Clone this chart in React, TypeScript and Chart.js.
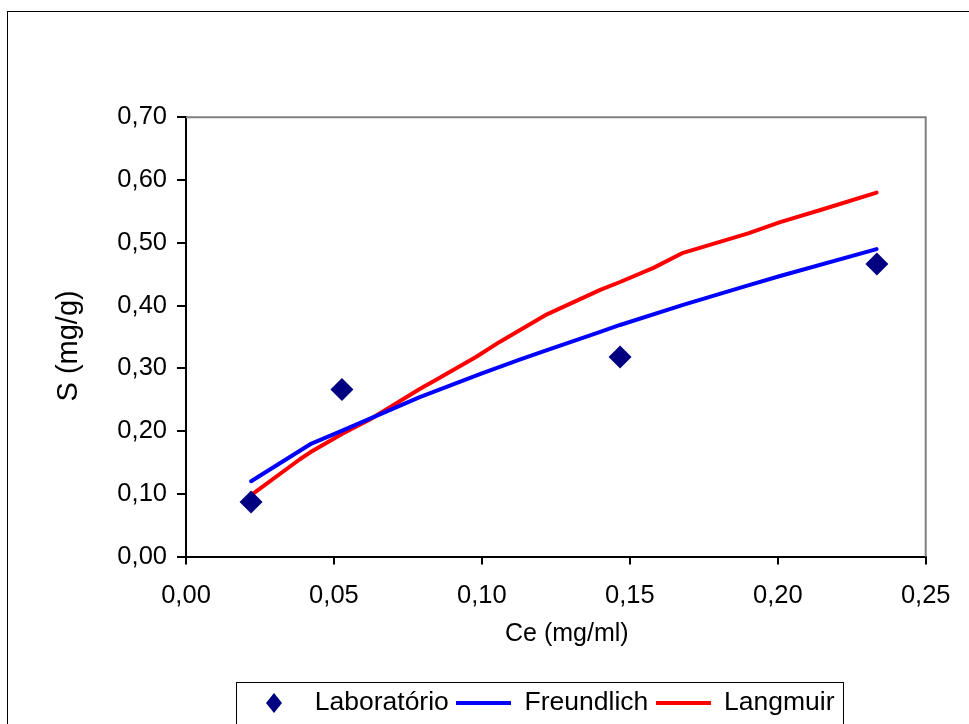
import { useEffect, useRef } from 'react';
import { Chart, registerables } from 'chart.js';

Chart.register(...registerables);

// Laboratory isotherm measurements
const labCe = [0.022, 0.0527, 0.1467, 0.2335];
const labS = [0.087, 0.266, 0.318, 0.466];

// Freundlich model curve
const freundlichCe = [0.022, 0.042, 0.053, 0.079, 0.1, 0.113, 0.122, 0.14, 0.1467, 0.168, 0.19, 0.2008, 0.2334];
const freundlichS = [0.12, 0.179, 0.201, 0.254, 0.292, 0.314, 0.329, 0.358, 0.369, 0.401, 0.432, 0.447, 0.49];

// Langmuir model curve
const langmuirCe = [0.022, 0.0385, 0.042, 0.053, 0.062, 0.079, 0.085, 0.098, 0.106, 0.122, 0.14, 0.1467, 0.158, 0.168, 0.19, 0.2008, 0.215, 0.2334];
const langmuirS = [0.098, 0.155, 0.166, 0.196, 0.218, 0.267, 0.283, 0.318, 0.342, 0.386, 0.425, 0.4375, 0.46, 0.484, 0.515, 0.533, 0.553, 0.58];

const seriesNames = ['Laboratório', 'Freundlich', 'Langmuir'];
const xTitle = 'Ce (mg/ml)';
const yTitle = 'S (mg/g)';

const FONT = '"Liberation Sans", Arial, sans-serif';
const NAVY = '#000080';
const BLUE = '#0000FF';
const RED = '#FF0000';

const toPoints = (xs: number[], ys: number[]) => xs.map((x, i) => ({ x, y: ys[i] }));
const fmt = (v: number | string) => Number(v).toFixed(2).replace('.', ',');

function diamondIcon(w: number, h: number, color: string) {
  const c = document.createElement('canvas');
  c.width = w;
  c.height = h;
  const ctx = c.getContext('2d')!;
  ctx.fillStyle = color;
  ctx.beginPath();
  ctx.moveTo(w / 2, 0);
  ctx.lineTo(w, h / 2);
  ctx.lineTo(w / 2, h);
  ctx.lineTo(0, h / 2);
  ctx.closePath();
  ctx.fill();
  return c;
}

function lineIcon(w: number, h: number, color: string) {
  const c = document.createElement('canvas');
  c.width = w;
  c.height = h;
  const ctx = c.getContext('2d')!;
  ctx.fillStyle = color;
  ctx.fillRect(0, 0, w, h);
  return c;
}

// Offsets an axis title from its default centred position
function nudgeTitle(scale: any, dx: number, dy: number) {
  if (!scale || scale.__nudged) return;
  const orig = scale.drawTitle;
  scale.drawTitle = function (...args: any[]) {
    this.ctx.save();
    this.ctx.translate(dx, dy);
    orig.apply(this, args);
    this.ctx.restore();
  };
  scale.__nudged = true;
}

export default function App() {
  const ref = useRef<HTMLCanvasElement>(null);

  useEffect(() => {
    const icons = [diamondIcon(16, 20, NAVY), lineIcon(55, 4, BLUE), lineIcon(55, 4, RED)];

    const frame = {
      id: 'frame',
      afterLayout(chart: any) {
        const lg = chart.legend;
        if (lg) {
          lg.left = 239;
          lg.right = 969;
          lg.top += 3.5;
          lg.bottom += 3.5;
        }
        nudgeTitle(chart.scales.x, 11, 0);
        nudgeTitle(chart.scales.y, 0, 9);
      },
      beforeDatasetsDraw(chart: any) {
        const { ctx, chartArea: a } = chart;
        ctx.save();
        ctx.strokeStyle = '#808080';
        ctx.lineWidth = 2;
        ctx.beginPath();
        ctx.moveTo(a.left, a.top);
        ctx.lineTo(a.right, a.top);
        ctx.lineTo(a.right, a.bottom);
        ctx.stroke();
        ctx.restore();
      },
      afterDraw(chart: any) {
        const { ctx } = chart;
        ctx.save();
        ctx.strokeStyle = '#000';
        ctx.lineWidth = 1;
        ctx.strokeRect(7.5, 11.5, 1000, 800);
        ctx.strokeRect(236.5, 682.5, 607, 80);
        ctx.restore();
      },
    };

    const chart = new Chart(ref.current!, {
      type: 'scatter',
      data: {
        datasets: [
          {
            label: seriesNames[0],
            data: toPoints(labCe, labS),
            pointStyle: 'rectRot',
            pointRadius: 11.5,
            pointBackgroundColor: NAVY,
            pointBorderColor: NAVY,
            pointBorderWidth: 0,
            showLine: false,
          },
          {
            label: seriesNames[1],
            data: toPoints(freundlichCe, freundlichS),
            showLine: true,
            borderColor: BLUE,
            backgroundColor: BLUE,
            borderWidth: 4,
            borderCapStyle: 'round',
            borderJoinStyle: 'round',
            pointRadius: 0,
            tension: 0,
          },
          {
            label: seriesNames[2],
            data: toPoints(langmuirCe, langmuirS),
            showLine: true,
            borderColor: RED,
            backgroundColor: RED,
            borderWidth: 4,
            borderCapStyle: 'round',
            borderJoinStyle: 'round',
            pointRadius: 0,
            tension: 0,
          },
        ],
      },
      options: {
        responsive: false,
        animation: false,
        events: [],
        layout: { padding: { left: 40, right: 43.3, top: 117.3, bottom: 1.25 } },
        plugins: {
          tooltip: { enabled: false },
          legend: {
            position: 'bottom',
            align: 'start',
            labels: {
              usePointStyle: true,
              pointStyleWidth: 55,
              padding: 7.5,
              color: '#000',
              font: { family: FONT, size: 26.5 },
              generateLabels(ch: any) {
                const items = Chart.defaults.plugins.legend.labels.generateLabels(ch);
                return items.map((it: any, i: number) => ({ ...it, pointStyle: icons[i] }));
              },
            },
          },
        },
        scales: {
          x: {
            type: 'linear',
            min: 0,
            max: 0.25,
            afterFit(scale: any) {
              scale.height = 122.25;
            },
            border: { color: '#000', width: 2 },
            grid: { drawOnChartArea: false, drawTicks: true, tickLength: 8, color: '#000', lineWidth: 2 },
            ticks: {
              stepSize: 0.05,
              padding: 16.5,
              color: '#000',
              font: { family: FONT, size: 25.5 },
              maxRotation: 0,
              callback: (v: any) => fmt(v),
            },
            title: {
              display: true,
              text: xTitle,
              color: '#000',
              font: { family: FONT, size: 25 },
              padding: { top: 0, bottom: 30 },
            },
          },
          y: {
            type: 'linear',
            min: 0,
            max: 0.7,
            afterFit(scale: any) {
              scale.width = 146;
            },
            border: { color: '#000', width: 2 },
            grid: { drawOnChartArea: false, drawTicks: true, tickLength: 9, color: '#000', lineWidth: 2 },
            ticks: {
              stepSize: 0.1,
              padding: 10,
              color: '#000',
              font: { family: FONT, size: 25.5 },
              callback: (v: any) => fmt(v),
            },
            title: {
              display: true,
              text: yTitle,
              color: '#000',
              font: { family: FONT, size: 29 },
              padding: { top: 11.6, bottom: 0 },
            },
          },
        },
      },
      plugins: [frame],
    } as any);

    return () => chart.destroy();
  }, []);

  return (
    <div style={{ position: 'absolute', left: 0, top: 0, width: 969, height: 724, background: '#fff' }}>
      <canvas ref={ref} width={969} height={724} style={{ display: 'block' }} />
    </div>
  );
}
